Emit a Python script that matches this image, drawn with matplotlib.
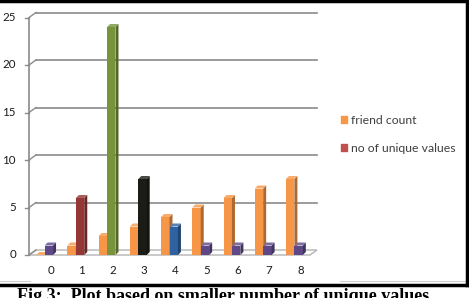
import numpy as np
import matplotlib
matplotlib.use("Agg")
import matplotlib.pyplot as plt
from matplotlib.lines import Line2D
from matplotlib.patches import Polygon, Patch
from matplotlib.colors import to_rgb

# data
categories = [0, 1, 2, 3, 4, 5, 6, 7, 8]
friend_count = [0, 1, 2, 3, 4, 5, 6, 7, 8]
unique_values = [1, 6, 24, 8, 3, 1, 1, 1, 1]
unique_colors = ['#5e4887', '#953735', '#77933c', '#1c1c16', '#2e62a0',
                 '#5e4887', '#5e4887', '#5e4887', '#5e4887']
orange = '#f79646'
y_ticks = [0, 5, 10, 15, 20, 25]
series_names = ['friend count', 'no of unique values']
caption = 'Fig 3:  Plot based on smaller number of unique values'

W, H = 469, 298
fig = plt.figure(figsize=(W / 100, H / 100), dpi=100)
fig.patch.set_facecolor('white')

# front plane of the 3d-ish chart, in pixels: x 29..310, y 255 (0) .. 17.5 (25)
ax = fig.add_axes([29 / W, (H - 255) / H, 281 / W, 237.5 / H])
ax.set_xlim(-0.5, 8.5)
ax.set_ylim(0, 25)
ax.axis('off')

ux = 281 / 9.0      # px per x unit
uy = 237.5 / 25.0   # px per y unit
wdx, wdy = 7 / ux, 5 / uy   # wall depth
bdx, bdy = 3 / ux, 3 / uy   # bar depth


def shade(c, f):
    r, g, b = to_rgb(c)
    if f < 1:
        return (r * f, g * f, b * f)
    return tuple(v + (1 - v) * (f - 1) for v in (r, g, b))


x0, x1 = ax.get_xlim()

# floor
ax.add_patch(Polygon([(x0, 0), (x1, 0), (x1 + wdx, wdy), (x0 + wdx, wdy)],
                     closed=True, facecolor='white', edgecolor='#b4b4b4',
                     lw=1.0, clip_on=False, zorder=1))

# back wall gridlines + side wall diagonals + ticks
for v in y_ticks:
    if v > 0:
        ax.plot([x0 + wdx, x1 + wdx], [v + wdy, v + wdy], color='#8a8a8a',
                lw=1.2, clip_on=False, zorder=1)
    ax.plot([x0, x0 + wdx], [v, v + wdy], color='#8a8a8a', lw=1.0,
            clip_on=False, zorder=1)
    ax.plot([x0 - 4 / ux, x0], [v, v], color='#8a8a8a', lw=1.0,
            clip_on=False, zorder=1)
    ax.text(x0 - 13 / ux, v, str(v), ha='right', va='center', fontsize=8.3,
            family='Lato', color='#1a1a1a', clip_on=False)
ax.plot([x0, x0], [0, y_ticks[-1]], color='#8a8a8a', lw=1.2, clip_on=False,
        zorder=1)

# bars
x = np.array(categories, dtype=float)
w = 0.27


def draw_bars(xl, heights, colors, z):
    ax.bar(xl, heights, w, align='edge', color=colors, zorder=z,
           clip_on=False)
    for xi, h, c in zip(xl, heights, colors):
        xr = xi + w
        ax.add_patch(Polygon([(xr, 0), (xr + bdx, bdy), (xr + bdx, h + bdy),
                              (xr, h)], closed=True, facecolor=shade(c, 0.7),
                             edgecolor='none', zorder=z, clip_on=False))
        ax.add_patch(Polygon([(xi, h), (xr, h), (xr + bdx, h + bdy),
                              (xi + bdx, h + bdy)], closed=True,
                             facecolor=shade(c, 1.2), edgecolor='none',
                             zorder=z, clip_on=False))


draw_bars(x - w, friend_count, [orange] * len(x), 3)
draw_bars(x, unique_values, unique_colors, 4)

# category labels
for xi, c in zip(x, categories):
    ax.text(xi + 6 / ux, -15 / uy, str(c), ha='center', va='center',
            fontsize=8.3, family='Lato', color='#1a1a1a', clip_on=False)

# legend
handles = [Patch(color=orange), Patch(color='#c0504d')]
fig.legend(handles, series_names, loc='upper left',
           bbox_to_anchor=(341 / W, 1 - 115 / H), frameon=False,
           prop={'family': 'Lato', 'size': 8.8},
           handlelength=0.5, handleheight=0.5, handletextpad=0.35,
           labelspacing=1.35, borderpad=0, borderaxespad=0,
           labelcolor='#404040')

# frame of the screenshot
fig.add_artist(Line2D([340 / W, 465 / W], [1 - 281 / H] * 2, color='#d0d0d0',
                      lw=0.8))
fig.add_artist(Line2D([0, 30 / W], [1 - 281 / H] * 2, color='#d0d0d0',
                      lw=0.8))
fig.add_artist(Line2D([0, 1], [1 - 1 / H] * 2, color='black', lw=2.5))
fig.add_artist(Line2D([467 / W] * 2, [1, 1 - 285 / H], color='black', lw=2.5))
fig.add_artist(Line2D([0, 468 / W], [1 - 284.5 / H] * 2, color='black',
                      lw=2.5))

# caption is cut by the bottom edge, as in the screenshot
fig.text(17 / W, -3 / H, caption, ha='left', va='baseline', fontsize=13,
         family='Liberation Serif', weight='bold', color='black')

fig.savefig('out.png', dpi=100, facecolor='white')
